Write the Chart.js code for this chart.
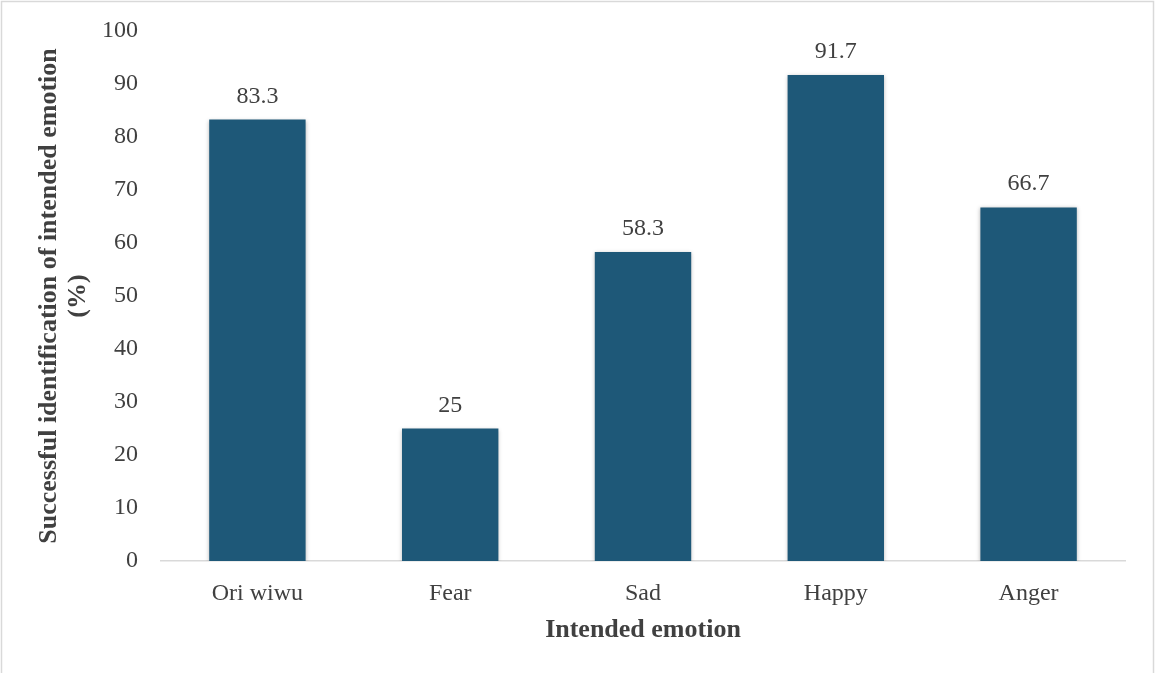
<!DOCTYPE html>
<html>
<head>
<meta charset="utf-8">
<script src="https://cdn.jsdelivr.net/npm/chart.js@4"></script>
<style>
html,body{margin:0;padding:0;background:#fff;}
#wrap{width:1155px;height:673px;position:relative;}
</style>
</head>
<body>
<div id="wrap"><canvas id="c" width="1155" height="673"></canvas></div>
<script>
const categories = ["Ori wiwu", "Fear", "Sad", "Happy", "Anger"];
const values = [83.3, 25, 58.3, 91.7, 66.7];
const valueLabels = ["83.3", "25", "58.3", "91.7", "66.7"];
const yTicks = [0, 10, 20, 30, 40, 50, 60, 70, 80, 90, 100];
const xTitle = "Intended emotion";
const yTitle = ["Successful identification of intended emotion", "(%)"];

const FONT = "'Liberation Serif', 'Times New Roman', serif";
const TXT = "#404040";

const frame = {
  id: 'frame',
  beforeDraw(chart) {
    const ctx = chart.ctx;
    ctx.save();
    ctx.fillStyle = '#fff';
    ctx.fillRect(0, 0, chart.width, chart.height);
    ctx.strokeStyle = '#d9d9d9';
    ctx.lineWidth = 1.5;
    ctx.strokeRect(1.5, 1.5, chart.width - 3, chart.height + 10);
    ctx.restore();
  }
};

const shadow = {
  id: 'shadow',
  beforeDatasetsDraw(chart) {
    const ctx = chart.ctx;
    ctx.save();
    ctx.shadowColor = 'rgba(0,0,0,0.28)';
    ctx.shadowBlur = 4;
    ctx.shadowOffsetX = 0;
    ctx.shadowOffsetY = 1;
  },
  afterDatasetsDraw(chart) {
    chart.ctx.restore();
  }
};

const valueLabelPlugin = {
  id: 'valueLabels',
  afterDatasetsDraw(chart) {
    const ctx = chart.ctx;
    const meta = chart.getDatasetMeta(0);
    ctx.save();
    ctx.font = "24px " + FONT;
    ctx.fillStyle = TXT;
    ctx.textAlign = 'center';
    ctx.textBaseline = 'alphabetic';
    meta.data.forEach((bar, i) => {
      ctx.fillText(valueLabels[i], bar.x, bar.y - 17);
    });
    ctx.restore();
  }
};

new Chart(document.getElementById('c'), {
  type: 'bar',
  data: {
    labels: categories,
    datasets: [{
      data: values,
      backgroundColor: '#1e5878',
      borderWidth: 0,
      categoryPercentage: 1.0,
      barPercentage: 0.5
    }]
  },
  options: {
    responsive: false,
    animation: false,
    devicePixelRatio: 1,
    layout: { padding: { left: 0, right: 30, top: 31, bottom: 0 } },
    plugins: { legend: { display: false }, tooltip: { enabled: false } },
    scales: {
      x: {
        grid: { display: false, drawTicks: false },
        border: { display: true, color: '#d9d9d9', width: 1.5 },
        ticks: { color: TXT, font: { family: FONT, size: 24 }, padding: 18, maxRotation: 0 },
        title: { display: true, text: xTitle, color: TXT, font: { family: FONT, size: 26, weight: 'bold' }, padding: { top: 0, bottom: 27 } },
        afterFit(scale) { scale.height = 673 - 561; scale.paddingLeft = 0; scale.paddingRight = 0; }
      },
      y: {
        min: 0, max: 100,
        grid: { display: false, drawTicks: false },
        border: { display: false },
        afterBuildTicks(scale) { scale.ticks = yTicks.map(v => ({ value: v })); },
        ticks: { color: TXT, font: { family: FONT, size: 24 }, padding: 23 },
        title: { display: true, text: yTitle, color: TXT, font: { family: FONT, size: 26, weight: 'bold', lineHeight: 1.1 }, padding: { top: 35, bottom: 0 } },
        afterFit(scale) { scale.width = 161; scale.paddingTop = 0; scale.paddingBottom = 0; }
      }
    }
  },
  plugins: [frame, shadow, valueLabelPlugin]
});
</script>
</body>
</html>
